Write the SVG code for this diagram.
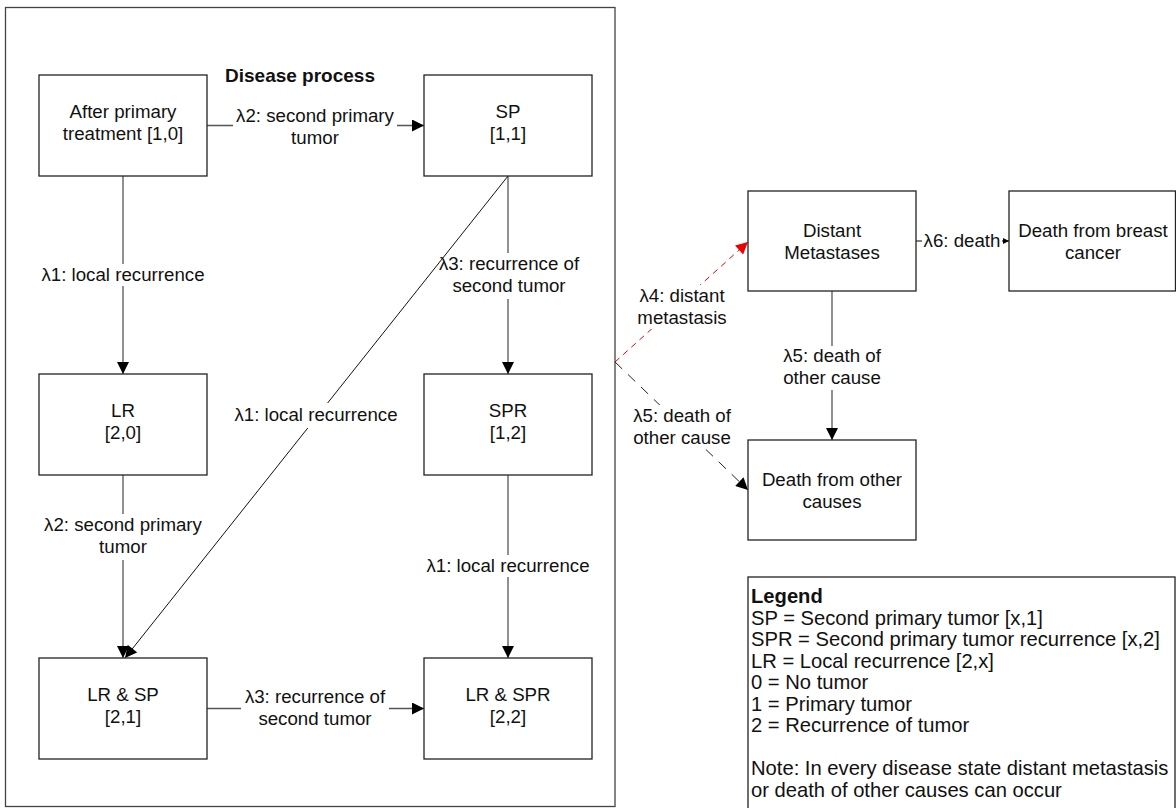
<svg xmlns="http://www.w3.org/2000/svg" width="1176" height="808" viewBox="0 0 1176 808">
<defs>
<style>
text{font-family:"Liberation Sans",Arial,sans-serif;font-size:18.7px;fill:#111;}
.c{text-anchor:middle;}
.box{fill:#fff;stroke:#222;stroke-width:1.3;}
.ln{fill:none;stroke:#555;stroke-width:1.3;}
.diag{fill:none;stroke:#111;stroke-width:1;}
.dr{fill:none;stroke:#e00;stroke-width:1;stroke-dasharray:6 5;}
.dk{fill:none;stroke:#222;stroke-width:1;stroke-dasharray:10 8;}
.bg{fill:#fff;stroke:none;}
.lg{font-size:20.2px;}
</style>
<marker id="ah" viewBox="0 0 10 10" refX="10" refY="5" markerWidth="13" markerHeight="12" markerUnits="userSpaceOnUse" orient="auto"><path d="M0,0L10,5L0,10z" fill="#000"/></marker>
<marker id="ahr" viewBox="0 0 10 10" refX="10" refY="5" markerWidth="13" markerHeight="12" markerUnits="userSpaceOnUse" orient="auto"><path d="M0,0L10,5L0,10z" fill="#e00"/></marker>
<marker id="ahs" viewBox="0 0 10 10" refX="10" refY="5" markerWidth="6" markerHeight="6" markerUnits="userSpaceOnUse" orient="auto"><path d="M0,0L10,5L0,10z" fill="#000"/></marker>
</defs>
<rect width="1176" height="808" fill="#fff"/>
<g id="container">
<rect x="5.5" y="7.5" width="609.5" height="799" fill="none" stroke="#444" stroke-width="1.3"/>
<text x="300" y="82" class="c" style="font-weight:bold;font-size:19px">Disease process</text>
</g>
<g id="connectors">
<line class="ln" x1="207" y1="125.5" x2="424" y2="125.5" marker-end="url(#ah)"/>
<line class="ln" x1="123" y1="176" x2="123" y2="374" marker-end="url(#ah)"/>
<line class="ln" x1="508" y1="176" x2="508" y2="374" marker-end="url(#ah)"/>
<line class="ln" x1="123" y1="475" x2="123" y2="658" marker-end="url(#ah)"/>
<line class="ln" x1="508" y1="475" x2="508" y2="658" marker-end="url(#ah)"/>
<line class="ln" x1="207" y1="708.5" x2="424" y2="708.5" marker-end="url(#ah)"/>
<line class="ln" x1="916" y1="241" x2="1009" y2="241" marker-end="url(#ahs)"/>
<line class="ln" x1="832" y1="291" x2="832" y2="440" marker-end="url(#ah)"/>
<line class="dr" x1="615" y1="362" x2="748" y2="242" marker-end="url(#ahr)"/>
<line class="dk" x1="615" y1="362" x2="748" y2="490" marker-end="url(#ah)"/>
<rect class="bg" x="233" y="110" width="164" height="40"/>
<text class="c" x="315" y="122">λ2: second primary</text>
<text class="c" x="315" y="143.5">tumor</text>
<rect class="bg" x="38" y="264" width="170" height="22"/>
<text class="c" x="123" y="281">λ1: local recurrence</text>
<rect class="bg" x="440" y="253" width="138" height="46"/>
<text class="c" x="509" y="270">λ3: recurrence of</text>
<text class="c" x="509" y="291.5">second tumor</text>
<rect class="bg" x="38" y="514" width="170" height="46"/>
<text class="c" x="123" y="531">λ2: second primary</text>
<text class="c" x="123" y="552.5">tumor</text>
<rect class="bg" x="423" y="555" width="170" height="22"/>
<text class="c" x="508" y="572">λ1: local recurrence</text>
<rect class="bg" x="241" y="686" width="148" height="44"/>
<text class="c" x="315" y="703">λ3: recurrence of</text>
<text class="c" x="315" y="724.5">second tumor</text>
<rect class="bg" x="922" y="230" width="80" height="22"/>
<text class="c" x="962" y="247">λ6: death</text>
<rect class="bg" x="772" y="346" width="120" height="44"/>
<text class="c" x="832" y="362">λ5: death of</text>
<text class="c" x="832" y="383.5">other cause</text>
<rect class="bg" x="628" y="285" width="110" height="44"/>
<text class="c" x="682" y="302">λ4: distant</text>
<text class="c" x="682" y="323.5">metastasis</text>
<rect class="bg" x="626" y="405" width="114" height="44"/>
<text class="c" x="682" y="422">λ5: death of</text>
<text class="c" x="682" y="443.5">other cause</text>
<line class="diag" x1="508" y1="176" x2="125" y2="658" marker-end="url(#ah)"/>
<rect class="bg" x="232" y="403" width="168" height="25"/>
<text class="c" x="316" y="421">λ1: local recurrence</text>
</g>
<g id="n10"><rect class="box" x="39" y="75" width="168" height="101"/><text class="c" x="123" y="118">After primary</text><text class="c" x="123" y="139.5">treatment [1,0]</text></g>
<g id="n11"><rect class="box" x="424" y="75" width="168" height="101"/><text class="c" x="508" y="118">SP</text><text class="c" x="508" y="139.5">[1,1]</text></g>
<g id="n20"><rect class="box" x="39" y="374" width="168" height="101"/><text class="c" x="123" y="417">LR</text><text class="c" x="123" y="438.5">[2,0]</text></g>
<g id="n12"><rect class="box" x="424" y="374" width="168" height="101"/><text class="c" x="508" y="417">SPR</text><text class="c" x="508" y="438.5">[1,2]</text></g>
<g id="n21"><rect class="box" x="39" y="658" width="168" height="101"/><text class="c" x="123" y="701">LR &amp; SP</text><text class="c" x="123" y="722.5">[2,1]</text></g>
<g id="n22"><rect class="box" x="424" y="658" width="168" height="101"/><text class="c" x="508" y="701">LR &amp; SPR</text><text class="c" x="508" y="722.5">[2,2]</text></g>
<g id="dm"><rect class="box" x="748" y="191" width="168" height="100"/><text class="c" x="832" y="237">Distant</text><text class="c" x="832" y="258.5">Metastases</text></g>
<g id="dbc"><rect class="box" x="1009" y="191" width="166.5" height="100"/><text class="c" x="1093" y="237">Death from breast</text><text class="c" x="1093" y="258.5">cancer</text></g>
<g id="doc"><rect class="box" x="748" y="440" width="168" height="100"/><text class="c" x="832" y="486">Death from other</text><text class="c" x="832" y="507.5">causes</text></g>
<g id="legend">
<rect class="box" x="748" y="577" width="427" height="240"/>
<text class="lg" x="751" y="603" style="font-weight:bold">Legend</text>
<text class="lg" x="751" y="625">SP = Second primary tumor [x,1]</text>
<text class="lg" x="751" y="646">SPR = Second primary tumor recurrence [x,2]</text>
<text class="lg" x="751" y="668">LR = Local recurrence [2,x]</text>
<text class="lg" x="751" y="689">0 = No tumor</text>
<text class="lg" x="751" y="711">1 = Primary tumor</text>
<text class="lg" x="751" y="732">2 = Recurrence of tumor</text>
<text class="lg" x="751" y="775">Note: In every disease state distant metastasis</text>
<text class="lg" x="751" y="797">or death of other causes can occur</text>
</g>
</svg>
